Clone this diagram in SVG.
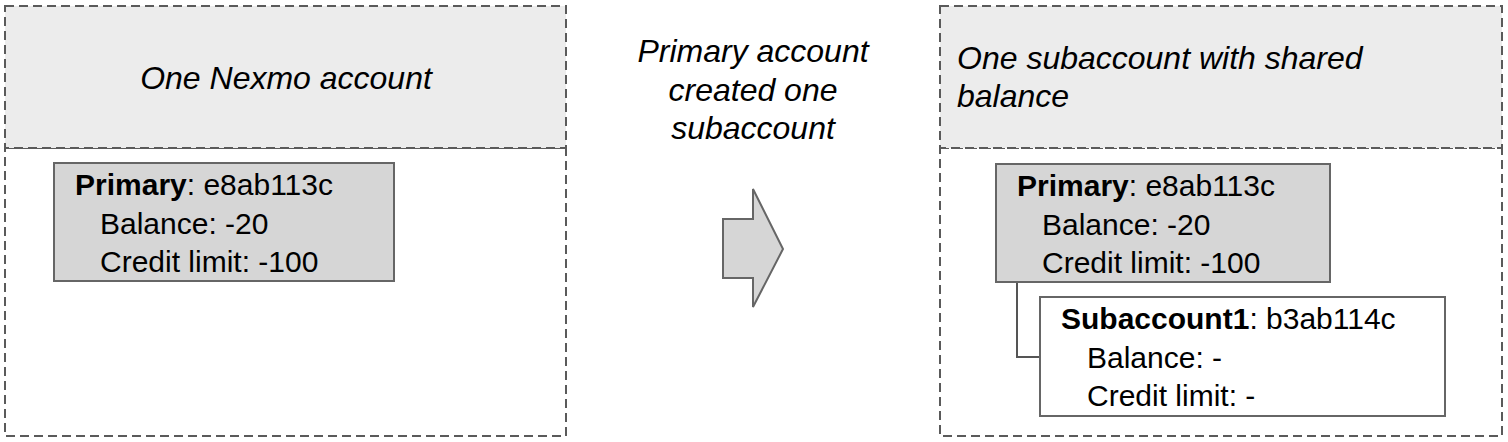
<svg xmlns="http://www.w3.org/2000/svg" width="1508" height="442" viewBox="0 0 1508 442">
<style>
.panel{fill:#ffffff;stroke:#5a5a5a;stroke-width:2;stroke-dasharray:9,5}
.head{fill:#ececec;stroke:#5a5a5a;stroke-width:2;stroke-dasharray:9,5}
.box{stroke:#666666;stroke-width:2}
.gray{fill:#d6d6d6}
.white{fill:#ffffff}
.title{font-family:"Liberation Sans",Arial,sans-serif;font-style:italic;font-size:32px;fill:#000}
.txt{font-family:"Liberation Sans",Arial,sans-serif;font-size:30px;fill:#000}
.b{font-weight:bold}
.conn{fill:none;stroke:#555555;stroke-width:2}
</style>
<rect width="1508" height="442" fill="#ffffff"/>
<g id="left-panel">
<rect class="panel" x="5" y="148" width="561" height="288"/>
<rect class="head" x="5" y="6" width="561" height="142"/>
<text class="title" x="286" y="89" text-anchor="middle">One Nexmo account</text>
</g>
<g id="left-primary">
<rect class="box gray" x="54" y="163" width="340" height="118"/>
<text class="txt" x="75" y="195"><tspan class="b">Primary</tspan>: e8ab113c</text>
<text class="txt" x="100" y="234">Balance: -20</text>
<text class="txt" x="100" y="272">Credit limit: -100</text>
</g>
<g id="middle-label">
<text class="title" x="753" y="62" text-anchor="middle">Primary account</text>
<text class="title" x="753" y="101" text-anchor="middle">created one</text>
<text class="title" x="753" y="139" text-anchor="middle">subaccount</text>
</g>
<g id="arrow">
<polygon class="box gray" points="723,219 753,219 753,189 783,249 753,307 753,278 723,278"/>
</g>
<g id="right-panel">
<rect class="panel" x="940" y="148" width="562" height="288"/>
<rect class="head" x="940" y="6" width="562" height="142"/>
<text class="title" x="957" y="69">One subaccount with shared</text>
<text class="title" x="957" y="107">balance</text>
</g>
<g id="connectors">
<polyline class="conn" points="1017,282 1017,357 1040,357"/>
</g>
<g id="right-primary">
<rect class="box gray" x="996" y="164" width="334" height="118"/>
<text class="txt" x="1017" y="196"><tspan class="b">Primary</tspan>: e8ab113c</text>
<text class="txt" x="1042" y="235">Balance: -20</text>
<text class="txt" x="1042" y="273">Credit limit: -100</text>
</g>
<g id="subaccount">
<rect class="box white" x="1040" y="297" width="405" height="119"/>
<text class="txt" x="1061" y="329"><tspan class="b">Subaccount1</tspan>: b3ab114c</text>
<text class="txt" x="1087" y="368">Balance: -</text>
<text class="txt" x="1087" y="406">Credit limit: -</text>
</g>
</svg>
